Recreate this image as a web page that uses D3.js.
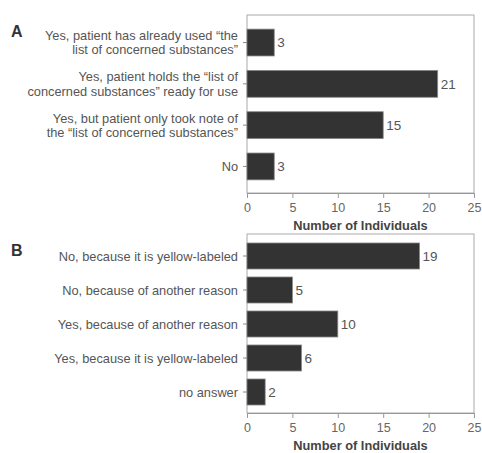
<!DOCTYPE html>
<html>
<head>
<meta charset="utf-8">
<script src="https://cdn.jsdelivr.net/npm/d3@7"></script>
<style>
  html, body { margin: 0; padding: 0; background: #fff; }
  svg { display: block; font-family: "Liberation Sans", Arial, sans-serif; }
</style>
</head>
<body>
<svg id="chart" width="482" height="453"></svg>
<script>
// Panel A: use of the "list of concerned substances"
const categoriesA = [
  ["Yes, patient has already used \u201cthe", "list of concerned substances\u201d"],
  ["Yes, patient holds the \u201clist of", "concerned substances\u201d ready for use"],
  ["Yes, but patient only took note of", "the \u201clist of concerned substances\u201d"],
  ["No"]
];
const valuesA = [3, 21, 15, 3];

// Panel B: reasons given
const categoriesB = [
  ["No, because it is yellow-labeled"],
  ["No, because of another reason"],
  ["Yes, because of another reason"],
  ["Yes, because it is yellow-labeled"],
  ["no answer"]
];
const valuesB = [19, 5, 10, 6, 2];

const xTicks = [0, 5, 10, 15, 20, 25];
const xTitle = "Number of Individuals";

const svg = d3.select("#chart");

function panel(opts) {
  const { letter, letterY, cats, vals, boxTop, axisY, bandTop, bandBottom, padInner } = opts;
  const x0 = 247, x1 = 474;
  const x = d3.scaleLinear().domain([0, 25]).range([x0, x1]);
  const y = d3.scaleBand()
    .domain(d3.range(cats.length))
    .range([bandTop, bandBottom])
    .paddingInner(padInner)
    .paddingOuter(padInner / 2);

  const g = svg.append("g");

  // frame
  g.append("rect")
    .attr("x", x0).attr("y", boxTop)
    .attr("width", x1 - x0).attr("height", axisY - boxTop)
    .attr("fill", "none").attr("stroke", "#aaa").attr("stroke-width", 1);

  // bars
  g.selectAll("rect.bar").data(vals).join("rect")
    .attr("class", "bar")
    .attr("x", x(0))
    .attr("y", (d, i) => y(i))
    .attr("width", d => x(d) - x(0))
    .attr("height", y.bandwidth())
    .attr("fill", "#333")
    .attr("stroke", "#888")
    .attr("stroke-width", 0.8);

  // value labels
  g.selectAll("text.val").data(vals).join("text")
    .attr("class", "val")
    .attr("x", d => x(d) + 3)
    .attr("y", (d, i) => y(i) + y.bandwidth() / 2)
    .attr("dy", "0.36em")
    .attr("font-size", 13.5)
    .attr("fill", "#555")
    .text(d => d);

  // y axis ticks and category labels
  const yAxis = d3.axisLeft(y).tickSize(4).tickFormat("");
  const ya = g.append("g").attr("transform", `translate(${x0},0)`).call(yAxis);
  ya.select(".domain").remove();
  ya.selectAll(".tick line").attr("stroke", "#888");

  cats.forEach((lines, i) => {
    const cy = y(i) + y.bandwidth() / 2;
    const lh = 14.5;
    const t = g.append("text")
      .attr("text-anchor", "end")
      .attr("font-size", 12.8)
      .attr("fill", "#555");
    lines.forEach((ln, k) => {
      t.append("tspan")
        .attr("x", 238)
        .attr("y", cy + (k - (lines.length - 1) / 2) * lh)
        .attr("dy", "0.36em")
        .text(ln);
    });
  });

  // x axis
  const xAxis = d3.axisBottom(x).tickValues(xTicks).tickSize(5).tickPadding(5);
  const xa = g.append("g").attr("transform", `translate(0,${axisY})`).call(xAxis);
  xa.select(".domain").attr("stroke", "#999");
  xa.selectAll(".tick line").attr("stroke", "#999");
  xa.selectAll(".tick text")
    .attr("font-size", 12.5)
    .attr("fill", "#666")
    .attr("font-family", "\"Liberation Sans\", Arial, sans-serif");

  g.append("text")
    .attr("x", (x0 + x1) / 2)
    .attr("y", axisY + 32)
    .attr("dy", "0.36em")
    .attr("text-anchor", "middle")
    .attr("font-size", 12.8)
    .attr("font-weight", "bold")
    .attr("fill", "#444")
    .text(xTitle);

  svg.append("text")
    .attr("x", 11).attr("y", letterY)
    .attr("dy", "0.36em")
    .attr("font-size", 16)
    .attr("font-weight", "bold")
    .attr("fill", "#333")
    .text(letter);
}

panel({
  letter: "A", letterY: 31,
  cats: categoriesA, vals: valuesA,
  boxTop: 15, axisY: 193,
  bandTop: 21.9, bandBottom: 187.1, padInner: 0.35
});

panel({
  letter: "B", letterY: 250,
  cats: categoriesB, vals: valuesB,
  boxTop: 234, axisY: 413,
  bandTop: 239, bandBottom: 409, padInner: 0.235
});
</script>
</body>
</html>
